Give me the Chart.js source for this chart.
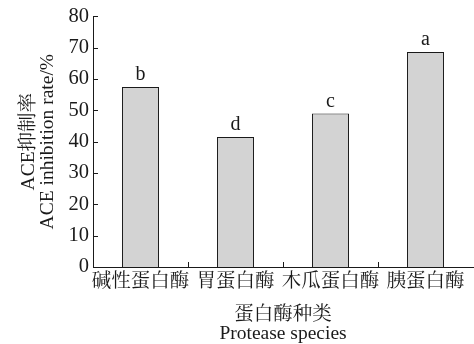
<!DOCTYPE html>
<html>
<head>
<meta charset="utf-8">
<script src="https://cdn.jsdelivr.net/npm/chart.js@4/dist/chart.umd.min.js"></script>
<style>
  html, body { margin: 0; padding: 0; background: #fff; }
  #wrap { width: 474px; height: 344px; }
</style>
</head>
<body>
<div id="wrap"><canvas id="canvas"></canvas></div>
<script>
  // protease types and ACE inhibition (%)
  var categories = ['碱性蛋白酶', '胃蛋白酶', '木瓜蛋白酶', '胰蛋白酶'];
  var inhibition = [57.4, 41.5, 49.0, 68.6];
  var groupLetters = ['b', 'd', 'c', 'a'];
  var yTicks = [0, 10, 20, 30, 40, 50, 60, 70, 80];

  var serif = "'Liberation Serif', 'Noto Serif CJK SC', 'Noto Sans CJK SC', serif";
  var ink = '#1a1a1a';

  // inward tick marks + significance letters over the bars
  var decorations = {
    id: 'decorations',
    afterDatasetsDraw: function(chart) {
      var ctx = chart.ctx;
      var x = chart.scales.x, y = chart.scales.y;
      var area = chart.chartArea;
      ctx.save();
      ctx.strokeStyle = ink;
      ctx.lineWidth = 1;
      ctx.beginPath();
      yTicks.forEach(function(v) {
        var py = Math.round(y.getPixelForValue(v)) + 0.5;
        ctx.moveTo(area.left, py);
        ctx.lineTo(area.left + 5, py);
      });
      for (var i = 1; i < categories.length; i++) {
        var px = Math.round((x.getPixelForValue(i - 1) + x.getPixelForValue(i)) / 2) + 0.5;
        ctx.moveTo(px, area.bottom);
        ctx.lineTo(px, area.bottom - 5);
      }
      ctx.stroke();

      ctx.fillStyle = ink;
      ctx.font = '20px ' + serif;
      ctx.textAlign = 'center';
      ctx.textBaseline = 'bottom';
      var meta = chart.getDatasetMeta(0);
      meta.data.forEach(function(bar, i) {
        ctx.fillText(groupLetters[i], bar.x, bar.y - 2);
      });
      ctx.restore();
    }
  };

  var config = {
    type: 'bar',
    data: {
      labels: categories,
      datasets: [{
        data: inhibition,
        backgroundColor: '#d3d3d3',
        borderColor: ink,
        borderWidth: 1,
        categoryPercentage: 1,
        barPercentage: 0.39
      }]
    },
    options: {
      responsive: true,
      maintainAspectRatio: false,
      animation: false,
      devicePixelRatio: 1,
      layout: { padding: { top: 9, right: 1, left: 0, bottom: 0 } },
      plugins: {
        legend: { display: false },
        tooltip: { enabled: false }
      },
      scales: {
        x: {
          offset: true,
          grid: { display: false, drawTicks: false },
          border: { display: true, color: ink, width: 1 },
          ticks: {
            color: ink,
            padding: 3,
            maxRotation: 0,
            autoSkip: false,
            font: { family: serif, size: 19.5 }
          },
          title: {
            display: true,
            text: ['蛋白酶种类', 'Protease species'],
            color: ink,
            padding: { top: 2, bottom: 0 },
            font: { family: serif, size: 19.5, lineHeight: 1.0 }
          },
          afterFit: function(s) { s.height = 77; }
        },
        y: {
          min: 0,
          max: 80,
          grid: { display: false, drawTicks: false },
          border: { display: true, color: ink, width: 1 },
          afterBuildTicks: function(s) {
            s.ticks = yTicks.map(function(v) { return { value: v }; });
          },
          ticks: {
            color: ink,
            padding: 4,
            font: { family: serif, size: 20.5 }
          },
          title: {
            display: true,
            text: ['ACE抑制率', 'ACE inhibition rate/%'],
            color: ink,
            padding: { top: 19, bottom: 0 },
            font: { family: serif, size: 19.5, lineHeight: 1.0 }
          },
          afterFit: function(s) { s.width = 93; }
        }
      }
    },
    plugins: [decorations]
  };

  window.onload = function() {
    window.myBar = new Chart(document.getElementById('canvas'), config);
  };
</script>
</body>
</html>
